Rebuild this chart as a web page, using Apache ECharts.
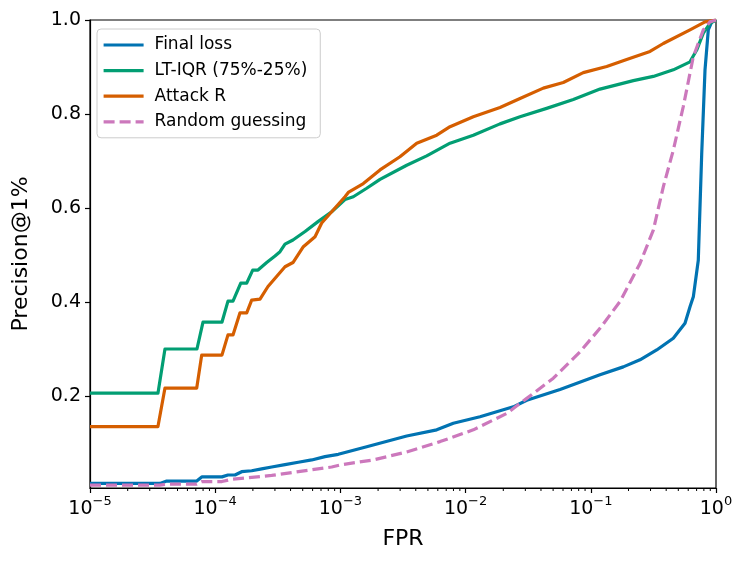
<!DOCTYPE html>
<html>
<head>
<meta charset="utf-8">
<script src="https://cdn.jsdelivr.net/npm/echarts@6/dist/echarts.min.js"></script>
<style>
html,body{margin:0;padding:0;background:#fff;}
#chart{width:748px;height:564px;}
</style>
</head>
<body>
<div id="chart"></div>
<script>
// Data: [FPR, Precision@1%]
const finalLoss = [[1e-5,0.014],[3.62e-5,0.014],[4.1e-5,0.019],[7.12e-5,0.019],[7.85e-5,0.028],[1.132e-4,0.028],[1.265e-4,0.032],[1.439e-4,0.032],[1.628e-4,0.039],[1.956e-4,0.041],[2.35e-4,0.045],[2.827e-4,0.049],[3.61e-4,0.054],[4.61e-4,0.059],[5.9e-4,0.064],[7.53e-4,0.071],[9.62e-4,0.076],[1.088e-3,0.080],[1.622e-3,0.092],[3.385e-3,0.115],[5.88e-3,0.128],[7.98e-3,0.142],[1.303e-2,0.156],[2.405e-2,0.177],[3.08e-2,0.191],[5.68e-2,0.214],[0.1184,0.245],[0.1818,0.262],[0.2472,0.277],[0.336,0.298],[0.456,0.323],[0.5654,0.355],[0.62,0.39],[0.659,0.411],[0.722,0.489],[0.769,0.716],[0.817,0.894],[0.868,0.979],[0.924,0.996],[1,1]];
const ltIqr = [[1e-5,0.206],[3.49e-5,0.206],[3.97e-5,0.30],[7.15e-5,0.30],[7.99e-5,0.357],[1.132e-4,0.357],[1.265e-4,0.402],[1.387e-4,0.402],[1.6e-4,0.44],[1.785e-4,0.44],[1.993e-4,0.468],[2.198e-4,0.468],[2.578e-4,0.484],[3.004e-4,0.498],[3.293e-4,0.507],[3.61e-4,0.523],[4.18e-4,0.532],[5.22e-4,0.55],[6.62e-4,0.571],[8.52e-4,0.592],[1.088e-3,0.618],[1.268e-3,0.624],[1.622e-3,0.642],[2.072e-3,0.661],[3.385e-3,0.691],[4.89e-3,0.711],[7.51e-3,0.738],[1.152e-2,0.755],[1.883e-2,0.779],[2.72e-2,0.794],[4.44e-2,0.812],[7.25e-2,0.831],[0.1184,0.853],[0.2186,0.871],[0.3157,0.88],[0.456,0.894],[0.62,0.911],[0.701,0.936],[0.792,0.972],[0.895,0.993],[1,1]];
const attackR = [[1e-5,0.135],[3.49e-5,0.135],[3.97e-5,0.217],[7.12e-5,0.217],[7.8e-5,0.287],[1.132e-4,0.287],[1.265e-4,0.33],[1.387e-4,0.33],[1.578e-4,0.377],[1.785e-4,0.377],[1.956e-4,0.404],[2.28e-4,0.406],[2.64e-4,0.433],[3.61e-4,0.475],[4.18e-4,0.484],[5.03e-4,0.517],[6.27e-4,0.539],[7.09e-4,0.568],[8.52e-4,0.592],[1.088e-3,0.624],[1.156e-3,0.633],[1.524e-3,0.652],[2.072e-3,0.681],[2.99e-3,0.709],[4.07e-3,0.738],[5.88e-3,0.755],[7.51e-3,0.773],[1.152e-2,0.794],[1.883e-2,0.814],[2.72e-2,0.833],[4.175e-2,0.855],[6.03e-2,0.867],[8.71e-2,0.888],[0.134,0.901],[0.1935,0.916],[0.2971,0.933],[0.3794,0.95],[0.62,0.979],[0.817,0.996],[1,1]];
const randomGuess = [[1e-5,0.0106],[3.6e-5,0.0106],[4.1e-5,0.0125],[7.12e-5,0.0125],[7.8e-5,0.018],[1.132e-4,0.018],[1.355e-4,0.023],[1.956e-4,0.027],[2.827e-4,0.031],[4.083e-4,0.037],[5.9e-4,0.043],[8.52e-4,0.049],[1.024e-3,0.054],[1.832e-3,0.064],[3.385e-3,0.081],[6.25e-3,0.103],[1.152e-2,0.128],[2.13e-2,0.163],[3.08e-2,0.195],[5.02e-2,0.238],[8.2e-2,0.294],[0.1184,0.344],[0.1711,0.401],[0.2472,0.482],[0.3157,0.553],[0.3794,0.645],[0.456,0.723],[0.548,0.816],[0.659,0.922],[0.792,0.979],[0.895,0.996],[1,1]];
const seriesNames = ['Final loss','LT-IQR (75%-25%)','Attack R','Random guessing'];
const yTicks = [0.2,0.4,0.6,0.8,1.0];
const xMinorTicks = [];
for (let e = -5; e < 0; e++) { for (let m = 2; m <= 9; m++) { xMinorTicks.push([m * Math.pow(10, e)]); } }

const Y_MIN = 0.0043;
const FONT = 'DejaVu Sans';
const chart = echarts.init(document.getElementById('chart'), null, {renderer:'canvas'});
function lineSeries(name, data, color, dashed) {
  return {
    name: name, type: 'line', data: data, showSymbol: false, symbol: 'none',
    lineStyle: {color: color, width: 3.2, type: dashed ? [11, 5] : 'solid', cap: 'butt', join: 'round'},
    itemStyle: {color: color}, animation: false, z: 3
  };
}
chart.setOption({
  animation: false,
  textStyle: {fontFamily: FONT},
  grid: {left: 90, right: 32, top: 20, bottom: 76, show: true, borderColor: '#000', borderWidth: 1.2, backgroundColor: 'transparent'},
  legend: {
    data: seriesNames, orient: 'vertical', left: 97, top: 29,
    itemWidth: 40, itemHeight: 14, itemGap: 5.6,
    padding: [6, 13, 6, 5],
    itemStyle: {opacity: 0},
    lineStyle: {width: 3.2},
    backgroundColor: 'rgba(255,255,255,0.8)', borderColor: '#cccccc', borderWidth: 1, borderRadius: 4,
    textStyle: {fontFamily: FONT, fontSize: 17, color: '#000', lineHeight: 20, padding: [0,0,0,6]}
  },
  xAxis: {
    type: 'log', logBase: 10, min: 1e-5, max: 1,
    name: 'FPR', nameLocation: 'middle', nameGap: 40,
    nameTextStyle: {fontFamily: FONT, fontSize: 22, color: '#000'},
    axisLine: {show: true, onZero: false, lineStyle: {color: '#000', width: 1.2}},
    axisTick: {show: true, length: 5, lineStyle: {color: '#000', width: 1.2}},
    minorTick: {show: false},
    splitLine: {show: false},
    axisLabel: {
      show: true, margin: 7, showMinLabel: true, showMaxLabel: true,
      formatter: function (v) { const e = Math.round(Math.log10(v)); return '{b|10}{s|' + (e < 0 ? '\u2212' + (-e) : e) + '}'; },
      rich: {
        b: {fontFamily: FONT, fontSize: 19, color: '#000', lineHeight: 24, verticalAlign: 'bottom'},
        s: {fontFamily: FONT, fontSize: 13, color: '#000', lineHeight: 24, verticalAlign: 'top'}
      }
    }
  },
  yAxis: {
    type: 'value', min: Y_MIN, max: 1,
    name: 'Precision@1%', nameLocation: 'middle', nameGap: 58,
    nameTextStyle: {fontFamily: FONT, fontSize: 22, color: '#000'},
    axisLine: {show: true, lineStyle: {color: '#000', width: 1.2}},
    axisTick: {show: true, length: 5, customValues: yTicks, lineStyle: {color: '#000', width: 1.2}},
    splitLine: {show: false},
    axisLabel: {show: true, margin: 9, customValues: yTicks, fontFamily: FONT, fontSize: 19, color: '#000',
      formatter: function (v) { return v.toFixed(1); }}
  },
  series: [
    lineSeries(seriesNames[0], finalLoss, '#0173b2', false),
    lineSeries(seriesNames[1], ltIqr, '#029e73', false),
    lineSeries(seriesNames[2], attackR, '#d55e00', false),
    lineSeries(seriesNames[3], randomGuess, '#cc78bc', true),
    {
      type: 'custom', name: 'minorTicks', data: xMinorTicks, silent: true, clip: false, z: 5,
      renderItem: function (params, api) {
        const p = api.coord([api.value(0), Y_MIN]);
        return {type: 'line', shape: {x1: p[0], y1: p[1], x2: p[0], y2: p[1] + 3}, style: {stroke: '#000', lineWidth: 1}};
      },
      animation: false
    }
  ]
});
</script>
</body>
</html>
